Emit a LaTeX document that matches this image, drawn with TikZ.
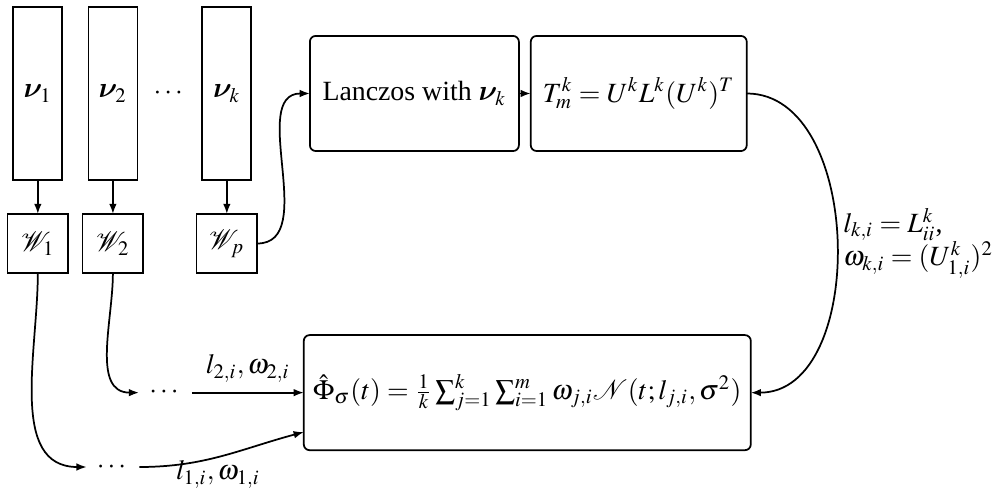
\documentclass[tikz,border=0pt]{standalone}
\usepackage{amsmath}
\usepackage{mathptmx}
\usepackage{fontspec}
\setmainfont{Liberation Serif}
\DeclareSymbolFont{boldcm}{OML}{cmm}{b}{it}
\DeclareMathSymbol{\bnu}{\mathord}{boldcm}{"17}
\usepackage{tikz}
\usetikzlibrary{arrows.meta,positioning}

\begin{document}
\begin{tikzpicture}[
  font=\fontsize{9.6pt}{11.5pt}\selectfont,
  vecbox/.style={rectangle, draw, semithick, outer sep=0pt, inner sep=0pt, minimum width=16.9pt, minimum height=59.7pt},
  wbox/.style={rectangle, draw, semithick, outer sep=0pt, inner sep=0pt, minimum width=21pt, minimum height=20.4pt},
  stage/.style={rectangle, rounded corners=2pt, draw, semithick, outer sep=0pt, align=center, inner xsep=1pt, minimum height=39.7pt},
  arrow/.style={-{Latex[length=3.5pt]}, semithick}
]
\useasboundingbox (0,0) rectangle (346.7pt,-171.1pt);
\node[vecbox, anchor=north west] (nu1) at (4.6pt,-2.4pt) {$\bnu_1$};
\node[vecbox, right=9pt of nu1] (nu2) {$\bnu_2$};
\node[right=0pt of nu2, minimum width=22.4pt, inner sep=0pt, outer sep=0pt] (vdots) {$\cdots$};
\node[vecbox, right=0pt of vdots] (nuk) {$\bnu_k$};
\node[wbox, below=11.7pt of nu1] (w1) {$\mathcal{W}_1$};
\node[wbox, below=11.7pt of nu2] (w2) {$\mathcal{W}_2$};
\node[wbox, below=11.7pt of nuk] (wp) {$\mathcal{W}_p$};
\node[stage, minimum width=72.1pt, right=20.2pt of nuk] (lanczos) {Lanczos with $\bnu_k$};
\node[stage, minimum width=74.5pt, right=4.1pt of lanczos] (tmat) {$T_m^k = U^k L^k (U^k)^T$};
\node[stage, minimum width=154.2pt, below right=63.5pt and -2.1pt of lanczos.south west] (phi)
  {$\hat{\Phi}_\sigma(t) = \frac{1}{k}\sum_{j=1}^{k}\sum_{i=1}^{m}\omega_{j,i}\mathcal{N}(t; l_{j,i},\sigma^2)$};
\node[left=38.6pt of phi] (dots2) {$\cdots$};
\node (dots1) at (39pt,-161.1pt) {$\cdots$};
\draw[arrow] (nu1) -- (w1);
\draw[arrow] (nu2) -- (w2);
\draw[arrow] (nuk) -- (wp);
\draw[arrow] (wp.east) to[out=0, in=180] (lanczos.west);
\draw[arrow] (lanczos) -- (tmat);
\draw[arrow] (tmat.east) to[out=0, in=0]
  node[right, pos=0.5, align=left, inner sep=2pt] {$l_{k,i} = L_{ii}^k$,\\ $\omega_{k,i} = (U_{1,i}^k)^2$} (phi.east);
\draw[arrow] (w2.south) to[out=-90, in=180] (dots2.west);
\draw[arrow] (dots2) -- node[above] {$l_{2,i},\omega_{2,i}$} (phi.west);
\draw[arrow] (w1.south) to[out=-90, in=180] (dots1.west);
\draw[arrow] (dots1.east) to[out=0, in=195] node[below, pos=0.47, inner sep=1pt] {$l_{1,i},\omega_{1,i}$} (phi.190);
\end{tikzpicture}
\end{document}
